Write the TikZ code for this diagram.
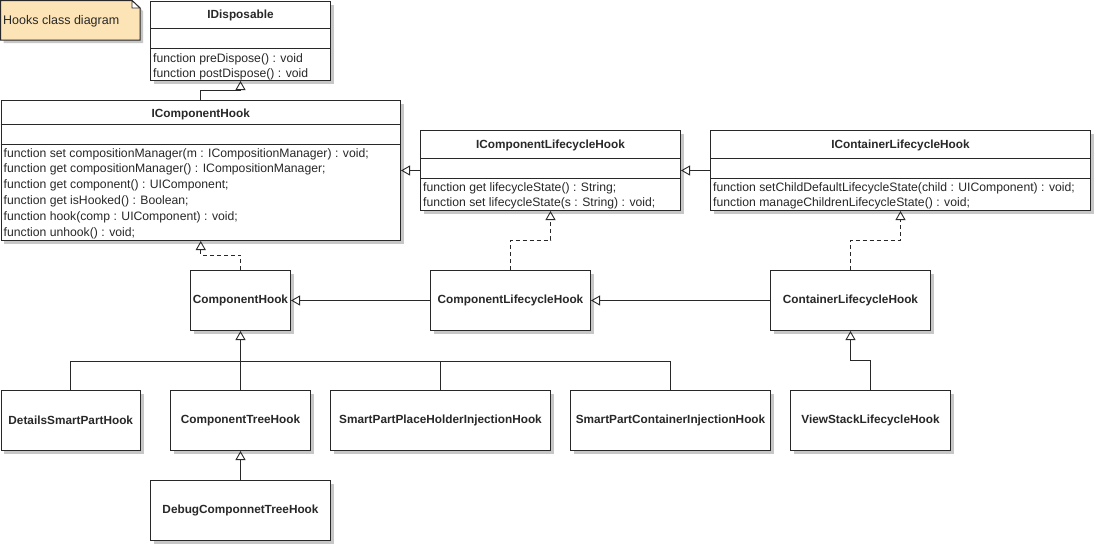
\documentclass[tikz,border=0pt]{standalone}
\usepackage{fontspec}
\setmainfont{Liberation Sans}
\usetikzlibrary{arrows.meta,shadows,calc}
\definecolor{notefill}{RGB}{252,228,182}
\definecolor{ink}{RGB}{40,40,40}
\tikzset{
  shad/.style={drop shadow={shadow xshift=3pt,shadow yshift=-3pt,fill=black!22,opacity=1}},
  cls/.style={draw=ink, fill=white, line width=1pt, anchor=north west, inner sep=0pt, shad},
  simple/.style={cls, font=\fontsize{11.8}{13}\selectfont\bfseries, text=ink, minimum height=60pt},
  ttl/.style={font=\fontsize{11.8}{13}\selectfont\bfseries, text=ink, inner sep=0pt, anchor=base},
  mth/.style={font=\fontsize{12.2}{14}\selectfont, text=ink, inner sep=0pt, anchor=base west},
  sep/.style={draw=ink, line width=0.9pt},
  gen/.style={draw=ink, line width=0.9pt, -{Triangle[open,length=9pt,width=10pt]}},
  real/.style={gen, dash pattern=on 4pt off 3pt},
  notebox/.style={draw=ink, fill=notefill, line width=1pt, shad},
  notetext/.style={font=\fontsize{12.5}{14}\selectfont, text=ink, inner sep=0pt, anchor=west}
}
\begin{document}
\begin{tikzpicture}[x=1pt,y=-1pt]
\useasboundingbox (0,0) rectangle (1095,550);
\fill[white] (0,0) rectangle (1095,550);

% note
\path[notebox] (0.5,0.5) -- (132,0.5) -- (140,8) -- (140,40) -- (0.5,40) -- cycle;
\draw[sep, fill=white] (132,0.5) -- (132,8) -- (140,8) -- cycle;
\node[notetext] (note) at (3,21) {Hooks class diagram};

% IDisposable
\node[cls, minimum width=180pt, minimum height=79pt] (IDisp) at (150,1) {};
\draw[sep] ($(IDisp.north west)+(0,27)$) -- ++(180,0);
\draw[sep] ($(IDisp.north west)+(0,47)$) -- ++(180,0);
\node[ttl] (IDispT) at ($(IDisp.north)+(0,17)$) {IDisposable};
\node[mth] (IDispM1) at ($(IDisp.north west)+(3,61)$) {function preDispose() : void};
\node[mth] (IDispM2) at ($(IDisp.north west)+(3,76.5)$) {function postDispose() : void};

% IComponentHook
\node[cls, minimum width=399.5pt, minimum height=140pt] (ICH) at (0.5,100) {};
\draw[sep] ($(ICH.north west)+(0,24)$) -- ++(399.5,0);
\draw[sep] ($(ICH.north west)+(0,44)$) -- ++(399.5,0);
\node[ttl] (ICHT) at ($(ICH.north)+(0,17)$) {IComponentHook};
\node[mth] (ICHM1) at ($(ICH.north west)+(3,57)$) {function set compositionManager(m : ICompositionManager) : void;};
\node[mth] (ICHM2) at ($(ICH.north west)+(3,72.8)$) {function get compositionManager() : ICompositionManager;};
\node[mth] (ICHM3) at ($(ICH.north west)+(3,88.6)$) {function get component() : UIComponent;};
\node[mth] (ICHM4) at ($(ICH.north west)+(3,104.4)$) {function get isHooked() : Boolean;};
\node[mth] (ICHM5) at ($(ICH.north west)+(3,120.2)$) {function hook(comp : UIComponent) : void;};
\node[mth] (ICHM6) at ($(ICH.north west)+(3,136)$) {function unhook() : void;};

% IComponentLifecycleHook
\node[cls, minimum width=260pt, minimum height=80pt] (ICLH) at (420,130) {};
\draw[sep] ($(ICLH.north west)+(0,28)$) -- ++(260,0);
\draw[sep] ($(ICLH.north west)+(0,48)$) -- ++(260,0);
\node[ttl] (ICLHT) at ($(ICLH.north)+(0,18)$) {IComponentLifecycleHook};
\node[mth] (ICLHM1) at ($(ICLH.north west)+(3,61)$) {function get lifecycleState() : String;};
\node[mth] (ICLHM2) at ($(ICLH.north west)+(3,76.5)$) {function set lifecycleState(s : String) : void;};

% IContainerLifecycleHook
\node[cls, minimum width=380pt, minimum height=80pt] (ICtLH) at (710,130) {};
\draw[sep] ($(ICtLH.north west)+(0,28)$) -- ++(380,0);
\draw[sep] ($(ICtLH.north west)+(0,48)$) -- ++(380,0);
\node[ttl] (ICtLHT) at ($(ICtLH.north)+(0,18)$) {IContainerLifecycleHook};
\node[mth] (ICtLHM1) at ($(ICtLH.north west)+(3,61)$) {function setChildDefaultLifecycleState(child : UIComponent) : void;};
\node[mth] (ICtLHM2) at ($(ICtLH.north west)+(3,76.5)$) {function manageChildrenLifecycleState() : void;};

% simple classes
\node[simple, minimum width=100pt] (CH) at (190,270) {ComponentHook};
\node[simple, minimum width=160pt] (CLH) at (430,270) {ComponentLifecycleHook};
\node[simple, minimum width=160pt] (CtLH) at (770,270) {ContainerLifecycleHook};
\node[simple, minimum width=139.5pt] (DSPH) at (0.5,390) {DetailsSmartPartHook};
\node[simple, minimum width=140pt] (CTH) at (170,390) {ComponentTreeHook};
\node[simple, minimum width=220pt] (SPPH) at (330,390) {SmartPartPlaceHolderInjectionHook};
\node[simple, minimum width=200pt] (SPCI) at (570,390) {SmartPartContainerInjectionHook};
\node[simple, minimum width=160pt] (VSLH) at (790,390) {ViewStackLifecycleHook};
\node[simple, minimum width=180pt] (DCTH) at (150,480) {DebugComponnetTreeHook};

% connectors
\draw[gen] (ICH.north) -- ++(0,-10) -| (IDisp.south);
\draw[gen] (ICLH.west) -- (ICLH.west -| ICH.east);
\draw[gen] (ICtLH.west) -- (ICLH.east);
\draw[real] (CH.north) -- ++(0,-15) -| (ICH.south);
\draw[real] (CLH.north) -- ++(0,-30) -| (ICLH.south);
\draw[real] (CtLH.north) -- ++(0,-30) -| (ICtLH.south);
\draw[gen] (CLH.west) -- (CH.east);
\draw[gen] (CtLH.west) -- (CLH.east);
\coordinate (hub) at ($(CH.south)+(0,30)$);
\draw[sep] (DSPH.north) |- (hub);
\draw[sep] (SPPH.north) |- (hub);
\draw[sep] (SPCI.north) |- (hub);
\draw[gen] (CTH.north) -- (CH.south);
\draw[gen] (DCTH.north) -- (CTH.south);
\draw[gen] (VSLH.north) -- ++(0,-30) -| (CtLH.south);
\end{tikzpicture}
\end{document}
